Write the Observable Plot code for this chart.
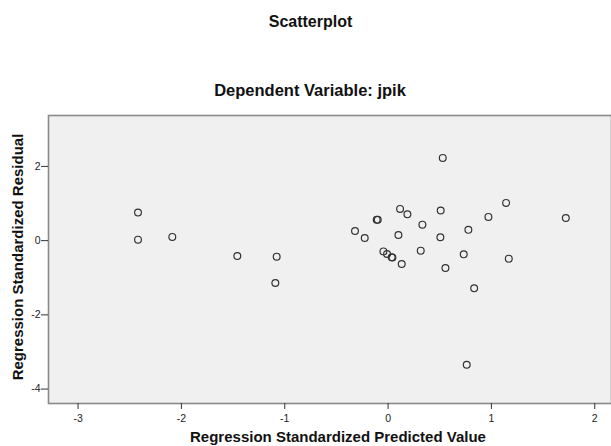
<!DOCTYPE html>
<html>
<head>
<meta charset="utf-8">
<script src="https://cdn.jsdelivr.net/npm/d3@7"></script>
<script src="https://cdn.jsdelivr.net/npm/@observablehq/plot@0.6"></script>
<style>
  html, body { margin: 0; padding: 0; background: #fff; }
  #chart { position: relative; width: 611px; height: 446px; }
  svg { font-family: Arial, "Liberation Sans", sans-serif; }
</style>
</head>
<body>
<div id="chart"></div>
<script>
const title = "Scatterplot";
const subtitle = "Dependent Variable: jpik";
const xLabel = "Regression Standardized Predicted Value";
const yLabel = "Regression Standardized Residual";
const xTicks = [-3, -2, -1, 0, 1, 2];
const yTicks = [-4, -2, 0, 2];

const predicted = [
  -2.42, -2.42, -2.088, -1.459, -1.078, -1.091,
  0.529, 1.142, 0.116, 0.187, 0.509, 0.971, 1.72,
  -0.110, -0.100, 0.332, -0.32, -0.226, 0.10, 0.506, 0.777,
  -0.045, -0.010, 0.035, 0.042, 0.132, 0.316, 0.732, 1.168,
  0.555, 0.833, 0.761
];
const residual = [
  0.755, 0.027, 0.10, -0.413, -0.432, -1.142,
  2.23, 1.017, 0.855, 0.71, 0.81, 0.64, 0.61,
  0.566, 0.56, 0.43, 0.26, 0.07, 0.15, 0.09, 0.29,
  -0.29, -0.36, -0.45, -0.455, -0.63, -0.27, -0.37, -0.486,
  -0.737, -1.286, -3.345
];
const data = predicted.map((x, i) => ({x, y: residual[i]}));

const W = 611, H = 446;
const mTop = 115, mLeft = 48, mRight = 0, mBottom = 43;

const plot = Plot.plot({
  width: W,
  height: H,
  marginTop: mTop,
  marginLeft: mLeft,
  marginRight: mRight,
  marginBottom: mBottom,
  style: {fontFamily: "Arial, 'Liberation Sans', sans-serif", fontSize: "10.5px", color: "#222", background: "#fff"},
  x: {domain: [-3.286, 2.162], label: null},
  y: {domain: [-4.389, 3.372], label: null},
  marks: [
    Plot.frame({fill: "#f0f0f0", stroke: "#8a8a8a", strokeWidth: 1.6}),
    Plot.axisX({ticks: xTicks, tickFormat: d => String(d), tickSize: 6, tickPadding: 5, stroke: "#333", fill: "#222", label: null}),
    Plot.axisY({ticks: yTicks, tickFormat: d => String(d), tickSize: 7, tickPadding: 1, stroke: "#333", fill: "#222", label: null}),
    Plot.dot(data, {x: "x", y: "y", r: 3.4, stroke: "#333", strokeWidth: 1.2, fill: "none"})
  ]
});

document.getElementById("chart").appendChild(plot);

const svg = d3.select(plot);
svg.append("text")
  .attr("x", 310.5).attr("y", 27)
  .attr("text-anchor", "middle")
  .attr("font-weight", "bold").attr("font-size", 16).attr("fill", "#111")
  .text(title);
svg.append("text")
  .attr("x", 310).attr("y", 96)
  .attr("text-anchor", "middle")
  .attr("font-weight", "bold").attr("font-size", 16.5).attr("fill", "#111")
  .text(subtitle);
svg.append("text")
  .attr("x", 338).attr("y", 442)
  .attr("text-anchor", "middle")
  .attr("font-weight", "bold").attr("font-size", 15).attr("fill", "#111")
  .text(xLabel);
svg.append("text")
  .attr("transform", "translate(23,257) rotate(-90)")
  .attr("text-anchor", "middle")
  .attr("font-weight", "bold").attr("font-size", 15).attr("fill", "#111")
  .text(yLabel);
</script>
</body>
</html>
